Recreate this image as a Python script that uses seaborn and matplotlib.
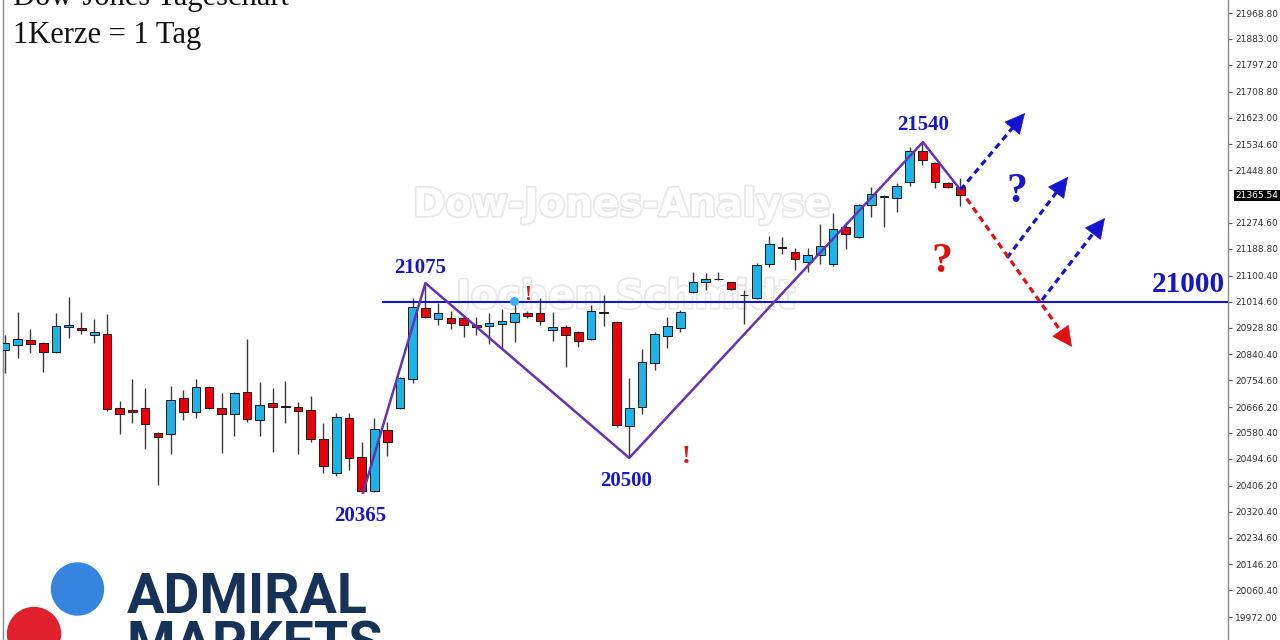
import numpy as np
import matplotlib.pyplot as plt
import matplotlib.patheffects as pe
from matplotlib.patches import Circle
import seaborn as sns

# Dow Jones daily candles (one candle = one day)
opens = [20855, 20871, 20888, 20878, 20848, 20931, 20927, 20904, 20908, 20663,
         20656, 20663, 20580, 20577, 20696, 20650, 20732, 20663, 20643, 20716,
         20623, 20680, 20667, 20666, 20656, 20560, 20448, 20630, 20501, 20390,
         20590, 20663, 20759, 20994, 20957, 20960, 20960, 20937, 20934, 20941,
         20947, 20978, 20977, 20921, 20931, 20914, 20891, 20980, 20947, 20603,
         20666, 20812, 20901, 20927, 21046, 21079, 21090, 21079, 21035, 21027,
         21139, 21195, 21179, 21146, 21169, 21139, 21261, 21228, 21334, 21361,
         21357, 21410, 21513, 21473, 21407, 21393]
highs = [20904, 20980, 20924, 20881, 20977, 21030, 20980, 20957, 20974, 20686,
         20759, 20729, 20582, 20736, 20722, 20759, 20735, 20713, 20716, 20891,
         20749, 20729, 20752, 20683, 20703, 20613, 20646, 20646, 20550, 20630,
         20617, 20765, 21027, 21076, 21010, 20984, 20970, 20964, 20977, 20990,
         21020, 20985, 21027, 20980, 20937, 20917, 21003, 21037, 20950, 20762,
         20858, 20914, 20964, 20987, 21112, 21109, 21112, 21080, 21053, 21142,
         21232, 21228, 21192, 21192, 21271, 21308, 21278, 21336, 21393, 21367,
         21407, 21526, 21540, 21476, 21410, 21423]
lows = [20779, 20828, 20845, 20782, 20845, 20894, 20908, 20878, 20653, 20577,
        20613, 20527, 20408, 20511, 20623, 20630, 20660, 20514, 20570, 20617,
        20570, 20517, 20613, 20511, 20550, 20448, 20438, 20458, 20382, 20385,
        20504, 20660, 20746, 20962, 20937, 20924, 20898, 20904, 20874, 20858,
        20881, 20960, 20937, 20884, 20798, 20865, 20888, 20934, 20600, 20498,
        20643, 20789, 20861, 20914, 21043, 21053, 21085, 21053, 20940, 21024,
        21129, 21172, 21119, 21112, 21139, 21132, 21189, 21226, 21294, 21261,
        21311, 21397, 21466, 21390, 21390, 21331]
closes = [20878, 20891, 20874, 20848, 20934, 20937, 20921, 20914, 20660, 20643,
          20650, 20610, 20567, 20689, 20650, 20732, 20663, 20643, 20713, 20627,
          20673, 20666, 20666, 20653, 20560, 20471, 20633, 20498, 20388, 20594,
          20550, 20762, 20997, 20964, 20977, 20944, 20937, 20931, 20944, 20950,
          20977, 20968, 20950, 20931, 20904, 20884, 20984, 20977, 20607, 20663,
          20815, 20908, 20934, 20980, 21079, 21089, 21088, 21056, 21037, 21136,
          21205, 21192, 21155, 21169, 21198, 21255, 21238, 21334, 21370, 21360,
          21397, 21513, 21483, 21410, 21393, 21365.54]
last_price = 21365.54

# right price axis
tick_vals = [21968.80, 21883.00, 21797.20, 21708.80, 21623.00, 21534.60, 21448.80,
             21274.60, 21188.80, 21100.40, 21014.60, 20928.80, 20840.40, 20754.60,
             20666.20, 20580.40, 20494.60, 20406.20, 20320.40, 20234.60, 20146.20,
             20060.40, 19972.00]

# zigzag swing points (day, price) and their labels
zigzag_day = [28.1, 33.0, 49.0, 72.05, 75.0]
zigzag_price = [20382, 21076, 20498, 21542, 21384]
zigzag_labels = ["20365", "21075", "20500", "21540"]

# support line
support_price = 21014.6
support_label = "21000"
support_start = 29.6

# scenario arrows: start day/price, end day/price, colour
scen_x0 = [75.0, 78.65, 81.4, 75.0]
scen_y0 = [21384, 21159, 21020, 21384]
scen_x1 = [80.06, 83.44, 86.34, 83.75]
scen_y1 = [21638, 21427, 21291, 20865]
scen_col = ["#1414d0", "#1414d0", "#1414d0", "#e01010"]

sns.set_theme(style="white")
plt.rcParams['font.family'] = ['DejaVu Sans']

fig = plt.figure(figsize=(12.8, 6.4), dpi=100)
ax = fig.add_axes([3 / 1280, 0, 1225 / 1280, 1])

days = np.arange(len(opens))
o = np.array(opens, float)
c = np.array(closes, float)
h = np.array(highs, float)
l = np.array(lows, float)
doji = np.abs(c - o) <= 3
colors = np.where(doji, "#222222", np.where(c >= o, "#1db3e8", "#e5000a"))

# candles: wicks then bodies
ax.vlines(days, l, h, color="#3a3a3a", lw=1, zorder=2)
ax.bar(days, np.maximum(np.abs(c - o), 2.5), bottom=np.minimum(o, c), width=0.68,
       color=colors, edgecolor="#1a1a1a", linewidth=0.7, zorder=3)

# zigzag
sns.lineplot(x=zigzag_day, y=zigzag_price, sort=False, estimator=None,
             color="#6434b4", lw=1.8, ax=ax, zorder=5)

serif = "Liberation Serif"
blue_txt = "#1717c4"
offsets = [(-3, -23), (-5, 15), (-3, -23), (0, 17)]
for d, p, lab, off in zip(zigzag_day, zigzag_price, zigzag_labels, offsets):
    ax.annotate(lab, xy=(d, p), xytext=off, textcoords="offset pixels",
                ha="center", va="center", family=serif, weight="bold",
                fontsize=15, color=blue_txt, zorder=6)

# support line 21000
ax.hlines(support_price, support_start, 96, color="#1414c8", lw=1.5, zorder=4)
ax.annotate(support_label, xy=(1, support_price), xycoords=ax.get_yaxis_transform(),
            xytext=(-3, 4), textcoords="offset pixels", ha="right", va="bottom",
            family=serif, weight="bold", fontsize=21, color=blue_txt)

# scenario arrows
for x0, y0, x1, y1, col in zip(scen_x0, scen_y0, scen_x1, scen_y1, scen_col):
    xe = x0 + 0.9 * (x1 - x0)
    ye = y0 + 0.9 * (y1 - y0)
    ax.plot([x0, xe], [y0, ye], color=col, lw=2.3, linestyle=(0, (2, 1.4)), zorder=6)
    ax.annotate("", xy=(x1, y1), xytext=(x0 + 0.92 * (x1 - x0), y0 + 0.92 * (y1 - y0)),
                arrowprops=dict(arrowstyle="-|>,head_length=0.8,head_width=0.4",
                                mutation_scale=17, color=col, lw=0.5,
                                shrinkA=0, shrinkB=0), zorder=6)

ax.text(73.55, 21146, "?", family=serif, weight="bold", fontsize=30,
        color="#e01010", ha="center", va="center", zorder=6)
ax.text(79.4, 21377, "?", family=serif, weight="bold", fontsize=30,
        color=blue_txt, ha="center", va="center", zorder=6)
ax.text(53.5, 20501, "!", family=serif, weight="bold", fontsize=19,
        color="#e01010", ha="center", va="center", zorder=6)
ax.text(41.0, 21038, "!", family=serif, weight="bold", fontsize=15,
        color="#e01010", ha="center", va="center", zorder=6)
ax.scatter([39.95], [21017], s=30, color="#3ab0f0", zorder=6)

# watermarks
for txt, d, p in [("Dow-Jones-Analyse", 48.4, 21334), ("Jochen Schmidt", 48.7, 21030)]:
    ax.text(d, p, txt, fontsize=28, weight="bold", color="white", ha="center",
            va="center", zorder=1,
            path_effects=[pe.withStroke(linewidth=2.5, foreground="#e8e8e8")])

# axes styling
ax.set_xlim(-0.157, 96.0)
ax.set_ylim(19896, 22011.8)
ax.set_xticks([])
ax.yaxis.tick_right()
ax.set_yticks(tick_vals)
ax.set_yticklabels([f"{v:.2f}" for v in tick_vals])
ax.tick_params(axis="y", right=True, left=False, length=3, width=0.8, colors="#555555",
               labelsize=6.5, labelcolor="#333333", pad=2, direction="out")
for side in ["top", "bottom"]:
    ax.spines[side].set_visible(False)
for side in ["left", "right"]:
    ax.spines[side].set_color("#8a8a8a")
    ax.spines[side].set_linewidth(1)
ax.text(1.006, last_price, f"{last_price:.2f}", transform=ax.get_yaxis_transform(),
        ha="left", va="center", fontsize=6.5, color="white",
        bbox=dict(boxstyle="square,pad=0.15", fc="black", ec="none"))

# title (cut at the top edge, as in the screenshot)
fig.text(13 / 1280, 1 - 5 / 640, "Dow-Jones Tageschart", family=serif, fontsize=22,
         va="baseline", color="#111111")
fig.text(13 / 1280, 1 - 43 / 640, "1Kerze = 1 Tag", family=serif, fontsize=22,
         va="baseline", color="#111111")

# logo overlay in pixel coordinates
lax = fig.add_axes([0, 0, 1, 1])
lax.set_xlim(0, 1280)
lax.set_ylim(640, 0)
lax.set_aspect("equal")
lax.axis("off")
lax.patch.set_alpha(0)
lax.add_patch(Circle((77.5, 589), 26, color="#3585e0"))
lax.add_patch(Circle((34, 634), 26.5, color="#e0202c"))
lax.text(127, 613, "ADMIRAL", family="Roboto", weight="bold", fontsize=40,
         color="#163257", va="baseline", ha="left")
lax.text(127, 662, "MARKETS", family="Roboto", weight="bold", fontsize=40,
         color="#163257", va="baseline", ha="left")

fig.savefig("out.png", dpi=100)
